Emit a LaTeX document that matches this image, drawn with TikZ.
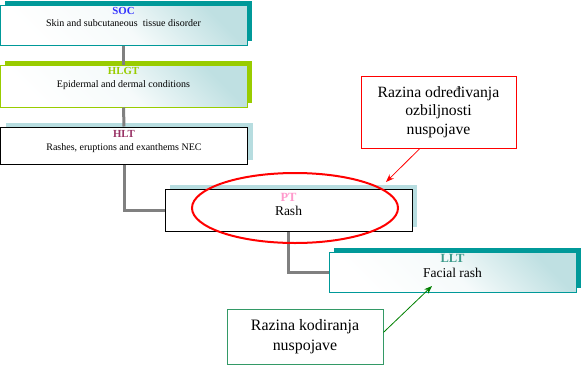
\documentclass[tikz,border=0pt]{standalone}
\usepackage{fontspec}
\setmainfont{Liberation Serif}
\usetikzlibrary{arrows.meta,shadows,positioning}
\definecolor{socteal}{HTML}{009999}
\definecolor{hlgtgreen}{HTML}{99CC00}
\definecolor{paleblue}{HTML}{B7DDE0}
\definecolor{gradteal}{HTML}{BFE0E2}
\definecolor{socblue}{HTML}{3333FF}
\definecolor{hltred}{HTML}{993366}
\definecolor{ptpink}{HTML}{FF99CC}
\definecolor{lltgreen}{HTML}{3A9A8A}
\definecolor{kodgreen}{HTML}{339966}
\definecolor{arrgreen}{HTML}{008000}
\definecolor{linegray}{HTML}{808080}

\begin{document}
\begin{tikzpicture}[x=1pt,y=-1pt,>={Stealth[length=8pt,width=6pt]},
  box/.style={draw,minimum width=247pt,inner sep=0pt,line width=1pt},
  shaded/.style={left color=white,right color=gradteal,middle color=white!85!gradteal,shading angle=135},
  shadowof/.style={general shadow={fill=#1,shadow xshift=5pt,shadow yshift=4pt}},
  lbl/.style={anchor=base,inner sep=0pt,font=\bfseries\fontsize{10.8}{12}\selectfont},
  txt/.style={anchor=base,inner sep=0pt,font=\fontsize{10}{12}\selectfont},
  biglbl/.style={lbl,font=\bfseries\fontsize{12.5}{14}\selectfont},
  bigtxt/.style={txt,font=\fontsize{13.5}{16}\selectfont},
  callout/.style={draw,line width=1pt,align=center,inner sep=0pt},
  joint/.style={draw=linegray,line width=3pt}]
\useasboundingbox (0,0) rectangle (582,365);

% hierarchy boxes
\node[box,draw=socteal,shaded,shadowof=socteal,minimum height=40pt] (soc) at (123.5,25) {};
\node[lbl,text=socblue] (soclbl) at ([yshift=-9.5pt]soc.north) {SOC};
\node[txt] (soctxt) at ([yshift=-21.5pt]soc.north) {Skin and subcutaneous\ \ tissue disorder};

\node[box,draw=hlgtgreen,shaded,shadowof=hlgtgreen,minimum height=42pt] (hlgt) at (123.5,86) {};
\node[lbl,text=hlgtgreen] (hlgtlbl) at ([yshift=-10pt]hlgt.north) {HLGT};
\node[txt] (hlgttxt) at ([yshift=-22.5pt]hlgt.north) {Epidermal and dermal conditions};

\node[box,draw=black,fill=white,shadowof=paleblue,minimum height=37pt] (hlt) at (124,145.5) {};
\node[lbl,text=hltred] (hltlbl) at ([yshift=-10.5pt]hlt.north) {HLT};
\node[txt] (hlttxt) at ([yshift=-23.5pt]hlt.north) {Rashes, eruptions and exanthems NEC};

\node[box,draw=black,fill=white,shadowof=paleblue,minimum height=42pt] (pt) at (288.5,210) {};
\node[biglbl,text=ptpink] (ptlbl) at ([yshift=-13pt]pt.north) {PT};
\node[bigtxt] (pttxt) at ([yshift=-27pt]pt.north) {Rash};

\node[box,draw=socteal,shaded,shadowof=socteal,minimum height=40pt] (llt) at (452.5,272) {};
\node[biglbl,text=lltgreen] (lltlbl) at ([yshift=-11pt]llt.north) {LLT};
\node[bigtxt] (llttxt) at ([yshift=-26pt]llt.north) {Facial rash};

% joints
\draw[joint] (soc.south) -- (hlgt.north);
\draw[joint] (hlgt.south) -- (hlt.north);
\draw[joint] (hlt.south) |- (pt.west);
\draw[joint] (pt.south) |- (llt.west);

% callouts
\draw[red,line width=2pt] (295,208) ellipse [x radius=103,y radius=35];

\node[callout,draw=red,minimum width=155pt,minimum height=72pt,
  font=\fontsize{15.7}{18.5}\selectfont] (ozb) at (438.5,112)
  {Razina određivanja\\ozbiljnosti\\nuspojave};
\coordinate (ozbtip) at (386,182);
\draw[->,red,line width=0.8pt] (ozb.243) -- (ozbtip);

\node[callout,draw=kodgreen,minimum width=156pt,minimum height=55pt,
  font=\fontsize{15.9}{20}\selectfont] (kod) at (305,336.5)
  {Razina kodiranja\\nuspojave};
\coordinate (kodtip) at (432,286);
\draw[->,arrgreen,line width=0.8pt] (kod.3) -- (kodtip);
\end{tikzpicture}
\end{document}
